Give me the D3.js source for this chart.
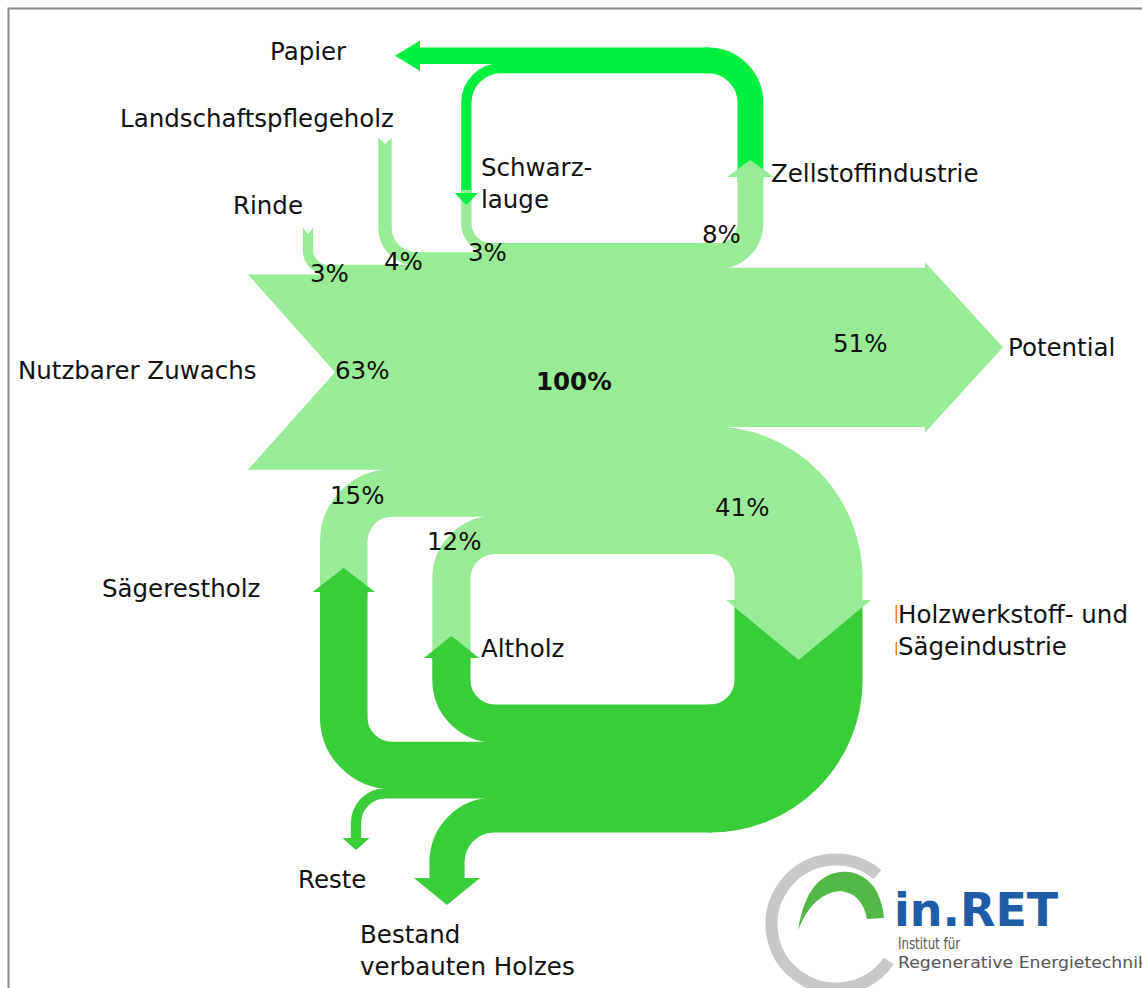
<!DOCTYPE html>
<html>
<head>
<meta charset="utf-8">
<script src="https://cdn.jsdelivr.net/npm/d3@7"></script>
<style>
  body { margin: 0; background: #fff; }
  text { font-family: "DejaVu Sans", sans-serif; fill: #111; font-size: 24.5px; }
</style>
</head>
<body>
<svg id="chart" width="1142" height="988"></svg>
<script>
// flows into the central node, stacked top -> bottom (percent)
const inNames = ["Schwarzlauge", "Landschaftspflegeholz", "Rinde", "Nutzbarer Zuwachs", "Sägerestholz", "Altholz"];
const inValues = [3, 4, 3, 63, 15, 12];
// flows out of the central node, top -> bottom
const outNames = ["Zellstoffindustrie", "Potential", "Holzwerkstoff- und Sägeindustrie"];
const outValues = [8, 51, 41];
// Zellstoffindustrie splits into
const zellNames = ["Papier", "Schwarzlauge"];
const zellValues = [5, 3];
// Holzwerkstoff- und Sägeindustrie splits into (inner -> outer)
const holzNames = ["Altholz", "Sägerestholz", "Reste", "Bestand verbauten Holzes"];
const holzValues = [12, 15, 3, 11];
const totalLabel = "100%";

const light = "#98ec96", bright = "#00f03f", dark = "#3acd3a";
const svg = d3.select("#chart");

// band width scale
const w = d3.scaleLinear().domain([0, 100]).range([0, 310]);
const PI = Math.PI;

// layout anchors
const top0 = 243.5, xMid = 600;
const stackEdges = (y0, vals) => [y0, ...Array.from(d3.cumsum(vals), v => y0 + w(v))];
const inE = stackEdges(top0, inValues);
const outE = stackEdges(top0, outValues);
const mid = (e, i) => (e[i] + e[i + 1]) / 2;

function pipe(color, val, build) {
  const p = d3.path();
  build(p);
  svg.append("path").attr("d", p.toString())
    .attr("fill", "none").attr("stroke", color)
    .attr("stroke-width", w(val) + 1).attr("stroke-linecap", "butt");
}
function poly(color, pts) {
  svg.append("path").attr("d", d3.line()(pts) + "Z").attr("fill", color);
}

// frame
svg.append("rect").attr("x", 8.5).attr("y", 8.5).attr("width", 1300).attr("height", 1200)
  .attr("fill", "none").attr("stroke", "#8a8a8a").attr("stroke-width", 2);

// ---- Zellstoff loop (bright) ----
const zTop = 48;
const zE = stackEdges(zTop, zellValues);          // papier, schwarzlauge slices
const zX = 738 + w(outValues[0]) / 2;             // vertical centre of Zellstoff pipe
const zR = 30 + w(outValues[0]) / 2;
const zCx = zX - zR, zCy = zTop + w(outValues[0]) / 2 + zR;
pipe(bright, outValues[0], p => { p.moveTo(zX, 182); p.arc(zCx, zCy, zR, 0, -PI / 2, true); p.lineTo(zCx - 4, zCy - zR); });
// Papier
pipe(bright, zellValues[0], p => { p.moveTo(zCx + 2, mid(zE, 0)); p.lineTo(418, mid(zE, 0)); });
const pY = mid(zE, 0);
poly(bright, [[420, pY - w(zellValues[0]) / 2 - 7.5], [395, pY], [420, pY + w(zellValues[0]) / 2 + 7.5]]);
// Schwarzlauge down branch
const sX = 466.35, sR = 30 + w(zellValues[1]) / 2;
pipe(bright, zellValues[1], p => { p.moveTo(zCx + 2, mid(zE, 1)); p.arc(sX + sR, mid(zE, 1) + sR, sR, -PI / 2, -PI, true); p.lineTo(sX, 195); });

// ---- inflows from above (light) ----
function downEast(xc, y0, yEnd, val, rIn) {
  const r = rIn + w(val) / 2;
  pipe(light, val, p => { p.moveTo(xc, y0); p.arc(xc + r, yEnd - r, r, PI, PI / 2, true); p.lineTo(xMid + 2, yEnd); });
}
downEast(sX, 190, mid(inE, 0), inValues[0], 20);
downEast(385, 138, mid(inE, 1), inValues[1], 25);
downEast(308, 228, mid(inE, 2), inValues[2], 15);
// tail notches
[[385, 138, inValues[1]], [308, 228, inValues[2]]].forEach(([x, y, v]) => {
  const h = w(v) / 2 + 1;
  poly("#fff", [[x - h, y - 1], [x + h, y - 1], [x, y + 6]]);
});

// Nutzbarer Zuwachs chevron
poly(light, [[248, inE[3]], [xMid + 2, inE[3]], [xMid + 2, inE[4]], [248, inE[4]], [335, mid(inE, 3)]]);

// ---- inflows from below (light part) ----
const sgX = 367 - w(inValues[4]) / 2, sgR = 25 + w(inValues[4]) / 2;
pipe(light, inValues[4], p => { p.moveTo(sgX, 596); p.arc(sgX + sgR, inE[5] + 25, sgR, PI, 1.5 * PI, false); p.lineTo(xMid + 2, mid(inE, 4)); });
const alX = 470 - w(inValues[5]) / 2, alR = 25 + w(inValues[5]) / 2;
pipe(light, inValues[5], p => { p.moveTo(alX, 662); p.arc(alX + alR, inE[6] + 25, alR, PI, 1.5 * PI, false); p.lineTo(xMid + 2, mid(inE, 5)); });

// ---- outflows (light) ----
// Zellstoff up
const zlR = 20 + w(outValues[0]) / 2;
pipe(light, outValues[0], p => { p.moveTo(xMid - 2, mid(outE, 0)); p.arc(zX - zlR, mid(outE, 0) - zlR, zlR, PI / 2, 0, true); p.lineTo(zX, 176); });
// Potential
const potY = mid(outE, 1);
pipe(light, outValues[1], p => { p.moveTo(xMid - 2, potY); p.lineTo(926, potY); });
poly(light, [[925, outE[1] - 6], [1003, potY], [925, outE[2] + 6]]);
// Holzwerkstoff down
const hIn = 735, hR = 25 + w(outValues[2]) / 2;
const hX = hIn + w(outValues[2]) / 2, hCx = hIn - 25;
pipe(light, outValues[2], p => { p.moveTo(xMid - 2, mid(outE, 2)); p.arc(hCx, outE[3] + 25, hR, -PI / 2, 0, false); p.lineTo(hX, 601); });

// ---- Holzwerkstoff loop (dark) ----
const yHole = 705;
const hE = stackEdges(yHole, holzValues);
pipe(dark, outValues[2], p => { p.moveTo(hX, 600.5); p.arc(hCx, yHole - 25, hR, 0, PI / 2, false); p.lineTo(hCx - 2, yHole + w(outValues[2]) / 2); });
// Altholz (up)
pipe(dark, holzValues[0], p => { p.moveTo(hCx + 2, mid(hE, 0)); p.arc(alX + alR, yHole - 25, alR, PI / 2, PI, false); p.lineTo(alX, 656); });
// Saegerestholz (up)
pipe(dark, holzValues[1], p => { p.moveTo(hCx + 2, mid(hE, 1)); p.arc(sgX + sgR, hE[1] - 25, sgR, PI / 2, PI, false); p.lineTo(sgX, 590); });
// Reste (down)
const rX = 356, rR = 25 + w(holzValues[2]) / 2;
pipe(dark, holzValues[2], p => { p.moveTo(hCx + 2, mid(hE, 2)); p.arc(rX + rR, hE[3] + 25, rR, -PI / 2, -PI, true); p.lineTo(rX, 840); });
// Bestand (down)
const bX = 447, bR = 30 + w(holzValues[3]) / 2;
pipe(dark, holzValues[3], p => { p.moveTo(hCx + 2, mid(hE, 3)); p.arc(bX + bR, hE[4] + 30, bR, -PI / 2, -PI, true); p.lineTo(bX, 880); });

// arrow heads
const head = (color, x, yb, yt, half) => poly(color, [[x - half, yb], [x, yt], [x + half, yb]]);
head(dark, sgX, 592, 568, w(holzValues[1]) / 2 + 8);
head(dark, alX, 658, 636, w(holzValues[0]) / 2 + 9);
head(dark, rX, 838, 850, w(holzValues[2]) / 2 + 9);
head(dark, bX, 878, 905, w(holzValues[3]) / 2 + 16);
head(light, zX, 177, 160, w(outValues[0]) / 2 + 11);
head(bright, sX, 193, 205, w(zellValues[1]) / 2 + 7);
head(light, hX, 600, 660, w(outValues[2]) / 2 + 9);

// ---- labels ----
const pct = v => v + "%";
function label(lines, x, y, opts = {}) {
  const t = svg.append("text").attr("x", x).attr("y", y);
  if (opts.bold) t.attr("font-weight", "bold");
  lines.forEach((s, i) => t.append("tspan").attr("x", x).attr("dy", i ? 32 : 0).text(s));
}
label([zellNames[0]], 270, 60);
label([inNames[1]], 120, 127);
label([inNames[2]], 233, 214);
label(["Schwarz-", "lauge"], 481, 176);
label([outNames[0]], 771, 182);
label([inNames[3]], 18, 379);
label([outNames[1]], 1008, 356);
label([inNames[4]], 102, 597);
label([inNames[5]], 481, 657);
label(["Holzwerkstoff- und", "Sägeindustrie"], 898, 623);
label([holzNames[2]], 298, 888);
label(["Bestand", "verbauten Holzes"], 360, 943);

label([pct(inValues[2])], 310, 282);
label([pct(inValues[1])], 384, 270);
label([pct(inValues[0])], 468, 261);
label([pct(outValues[0])], 702, 243);
label([pct(inValues[3])], 335, 379);
label([pct(outValues[1])], 833, 352);
label([pct(inValues[4])], 330, 504);
label([pct(inValues[5])], 427, 550);
label([pct(outValues[2])], 715, 516);
label([totalLabel], 536, 390, { bold: true });

// small orange marks beside the Holzwerkstoff label
svg.append("rect").attr("x", 895.5).attr("y", 605).attr("width", 1.5).attr("height", 18).attr("fill", "#e8832a");
svg.append("rect").attr("x", 895.5).attr("y", 642).attr("width", 1.5).attr("height", 13).attr("fill", "#e8832a");

// ---- logo ----
const lg = svg.append("g");
const lc = [836, 924], lr = 64.5;
const a0 = 35 * PI / 180, a1 = 310 * PI / 180;
const ring = d3.path();
ring.arc(lc[0], lc[1], lr, a0, a1, false);
lg.append("path").attr("d", ring.toString()).attr("fill", "none").attr("stroke", "#c8c8c8").attr("stroke-width", 12);
lg.append("path")
  .attr("d", "M798,930 Q808,868 850,872 Q880,878 884,918 L867,919 Q862,893 840,891 Q813,893 798,930 Z")
  .attr("fill", "#52b947");
lg.append("text").attr("x", 894).attr("y", 926).attr("font-family", "Liberation Sans, Arial, sans-serif")
  .attr("font-weight", "bold").style("font-size", "46px").style("fill", "#1e5ca8").text("in.RET");
lg.append("text").attr("x", 898).attr("y", 949).style("font-size", "15px").style("fill", "#555")
  .attr("textLength", 62).attr("lengthAdjust", "spacingAndGlyphs").text("Institut für");
lg.append("text").attr("x", 898).attr("y", 968).style("font-size", "16px").style("fill", "#555")
  .attr("textLength", 250).attr("lengthAdjust", "spacingAndGlyphs").text("Regenerative Energietechnik");
</script>
</body>
</html>
